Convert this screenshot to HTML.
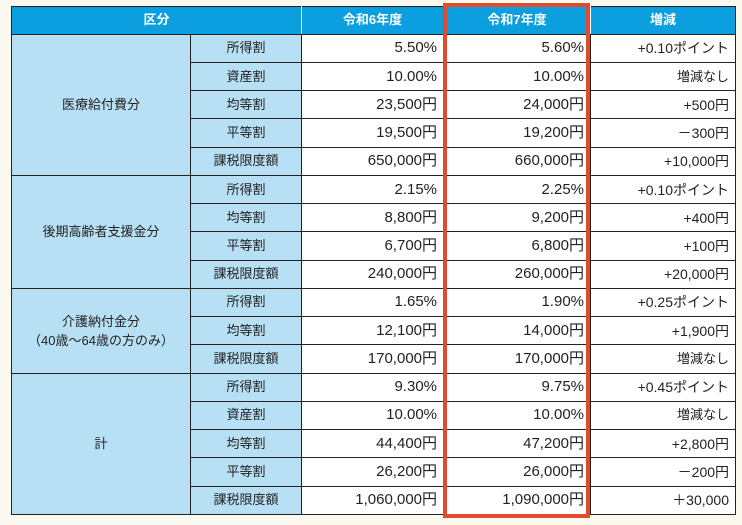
<!DOCTYPE html>
<html><head><meta charset="utf-8"><style>
body{margin:0;background:#fbf8ee;width:742px;height:525px;position:relative;overflow:hidden;font-family:"Liberation Sans","Noto Sans CJK JP",sans-serif;}
table{position:absolute;left:11px;top:6px;border-collapse:collapse;table-layout:fixed;width:724px;height:509px;}
tr{height:25.45px}
td,th{border:1px solid #222;padding:0 6px;font-size:14px;color:#222;white-space:nowrap;vertical-align:middle;line-height:18px}
th{background:#0c9fe0;color:#fff;font-weight:bold;font-size:13px;border-color:#222;border-right-color:#fff}
th:last-child{border-right-color:#222}
td.g{background:#b8e0f5;text-align:center;font-size:13px;line-height:19px}
td.s{background:#b8e0f5;text-align:center;font-size:13px}
td.n{background:#fff;text-align:right;font-size:15px}
td.d{background:#fff;text-align:right;font-size:14px}
.box{position:absolute;left:443px;top:3px;width:147px;height:515px;border:4px solid #e04a2e;box-sizing:border-box;pointer-events:none}
</style></head><body>
<table>
<colgroup><col style="width:179px"><col style="width:111px"><col style="width:142px"><col style="width:147px"><col style="width:145px"></colgroup>
<tr style="height:25px"><th colspan="2">区分</th><th>令和6年度</th><th>令和7年度</th><th>増減</th></tr>
<tr><td class="g" rowspan="5">医療給付費分</td><td class="s">所得割</td><td class="n">5.50%</td><td class="n">5.60%</td><td class="d">+0.10ポイント</td></tr>
<tr><td class="s">資産割</td><td class="n">10.00%</td><td class="n">10.00%</td><td class="d" style="font-size:13px">増減なし</td></tr>
<tr><td class="s">均等割</td><td class="n">23,500円</td><td class="n">24,000円</td><td class="d">+500円</td></tr>
<tr><td class="s">平等割</td><td class="n">19,500円</td><td class="n">19,200円</td><td class="d">－300円</td></tr>
<tr><td class="s">課税限度額</td><td class="n">650,000円</td><td class="n">660,000円</td><td class="d">+10,000円</td></tr>
<tr><td class="g" rowspan="4">後期高齢者支援金分</td><td class="s">所得割</td><td class="n">2.15%</td><td class="n">2.25%</td><td class="d">+0.10ポイント</td></tr>
<tr><td class="s">均等割</td><td class="n">8,800円</td><td class="n">9,200円</td><td class="d">+400円</td></tr>
<tr><td class="s">平等割</td><td class="n">6,700円</td><td class="n">6,800円</td><td class="d">+100円</td></tr>
<tr><td class="s">課税限度額</td><td class="n">240,000円</td><td class="n">260,000円</td><td class="d">+20,000円</td></tr>
<tr><td class="g" rowspan="3">介護納付金分<br>（40歳～64歳の方のみ）</td><td class="s">所得割</td><td class="n">1.65%</td><td class="n">1.90%</td><td class="d">+0.25ポイント</td></tr>
<tr><td class="s">均等割</td><td class="n">12,100円</td><td class="n">14,000円</td><td class="d">+1,900円</td></tr>
<tr><td class="s">課税限度額</td><td class="n">170,000円</td><td class="n">170,000円</td><td class="d" style="font-size:13px">増減なし</td></tr>
<tr><td class="g" rowspan="5">計</td><td class="s">所得割</td><td class="n">9.30%</td><td class="n">9.75%</td><td class="d">+0.45ポイント</td></tr>
<tr><td class="s">資産割</td><td class="n">10.00%</td><td class="n">10.00%</td><td class="d" style="font-size:13px">増減なし</td></tr>
<tr><td class="s">均等割</td><td class="n">44,400円</td><td class="n">47,200円</td><td class="d">+2,800円</td></tr>
<tr><td class="s">平等割</td><td class="n">26,200円</td><td class="n">26,000円</td><td class="d">－200円</td></tr>
<tr><td class="s">課税限度額</td><td class="n">1,060,000円</td><td class="n">1,090,000円</td><td class="d">＋30,000</td></tr>
</table>
<div class="box"></div>
</body></html>
